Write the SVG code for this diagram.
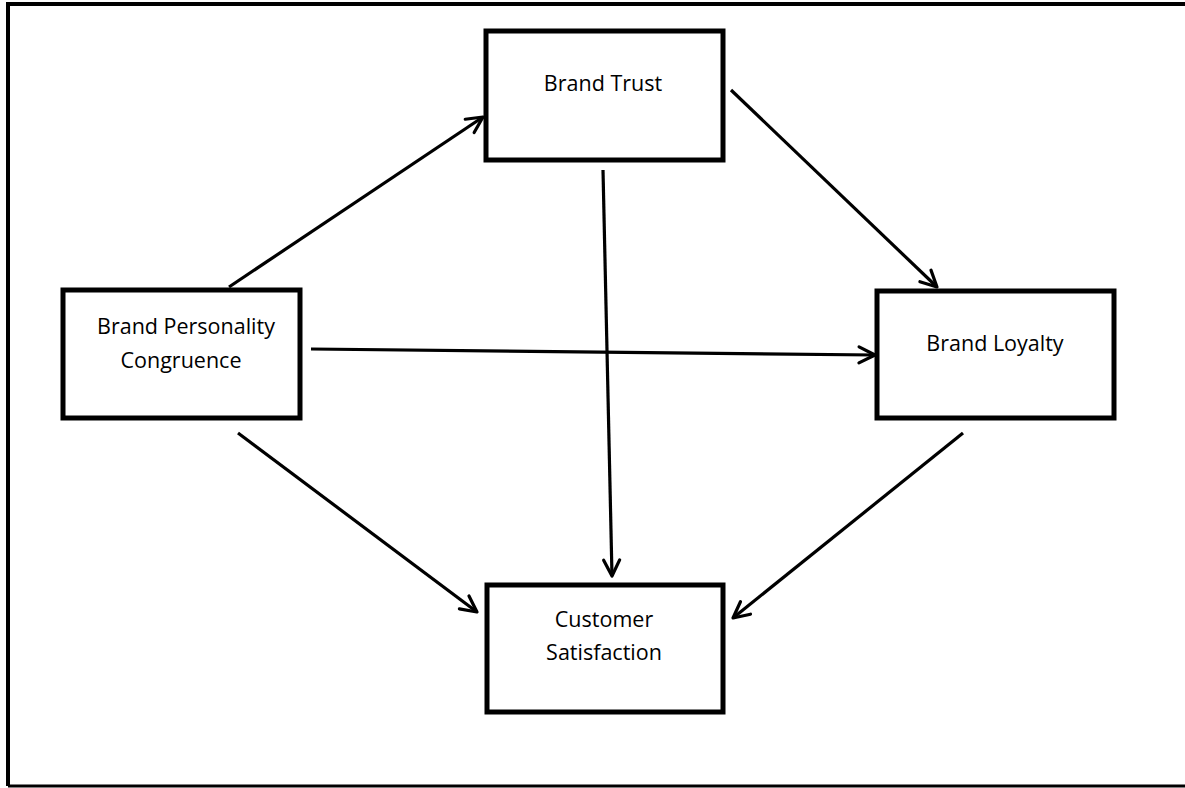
<svg xmlns="http://www.w3.org/2000/svg" width="1185" height="788" viewBox="0 0 1185 788">
<style>
.box{fill:#fff;stroke:#000;stroke-width:5}
.lbl{font-family:"Open Sans","Liberation Sans",sans-serif;font-size:21.5px;fill:#000;text-anchor:middle}
.conn{stroke:#000;stroke-width:3.2;fill:none;marker-end:url(#ah)}
</style>
<defs>
<marker id="ah" markerUnits="userSpaceOnUse" markerWidth="24" markerHeight="24" refX="20" refY="12" orient="auto">
<path d="M4,4 L20,12 L4,20" fill="none" stroke="#000" stroke-width="3.2" stroke-linecap="round" stroke-linejoin="round"/>
</marker>
</defs>
<rect x="0" y="0" width="1185" height="788" fill="#fff"/>
<path d="M8,786 L8,4 L1185,4" fill="none" stroke="#000" stroke-width="4"/>
<path d="M8,786 L1185,786" fill="none" stroke="#000" stroke-width="3"/>
<g id="connectors">
<line class="conn" x1="229" y1="287" x2="483" y2="117"/>
<line class="conn" x1="731" y1="90" x2="937" y2="287"/>
<line class="conn" x1="311" y1="349" x2="875" y2="355"/>
<line class="conn" x1="603" y1="170" x2="612" y2="576"/>
<line class="conn" x1="238" y1="433" x2="477" y2="612"/>
<line class="conn" x1="963" y1="433" x2="733" y2="618"/>
</g>
<g id="brand-trust">
<rect class="box" x="486" y="31" width="237" height="129"/>
<text class="lbl" x="603" y="91">Brand Trust</text>
</g>
<g id="brand-personality-congruence">
<rect class="box" x="63" y="290" width="237" height="128"/>
<text class="lbl" x="186" y="334">Brand Personality</text>
<text class="lbl" x="181" y="368">Congruence</text>
</g>
<g id="brand-loyalty">
<rect class="box" x="877" y="291" width="237" height="127"/>
<text class="lbl" x="995" y="351">Brand Loyalty</text>
</g>
<g id="customer-satisfaction">
<rect class="box" x="487" y="585" width="236" height="127"/>
<text class="lbl" x="604" y="627">Customer</text>
<text class="lbl" x="604" y="660">Satisfaction</text>
</g>
</svg>
